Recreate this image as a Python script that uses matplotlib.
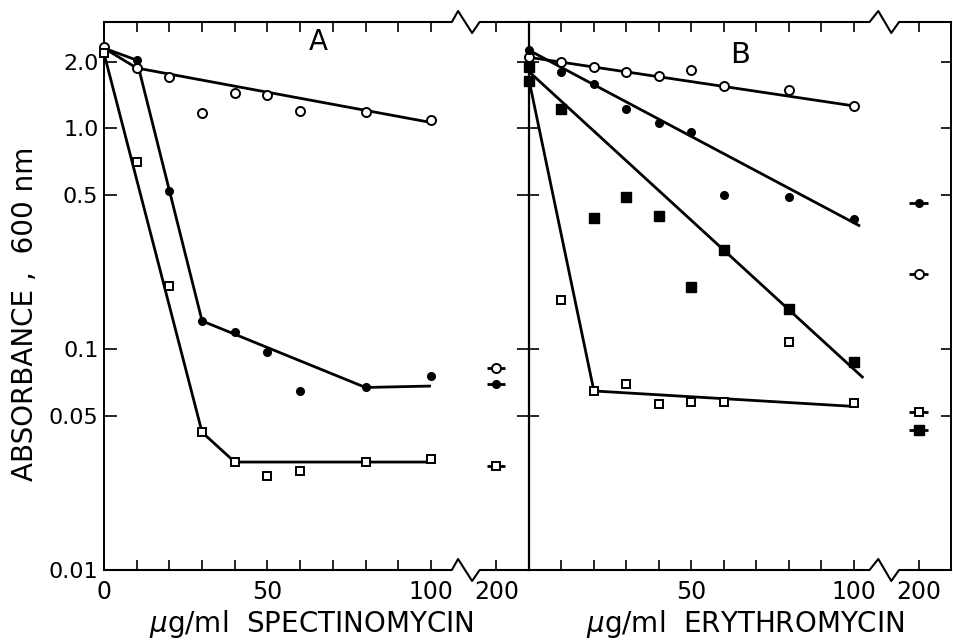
import matplotlib
matplotlib.use("Agg")
import matplotlib.pyplot as plt
from matplotlib.ticker import NullLocator, FixedLocator, FixedFormatter
import matplotlib.transforms as mtrans

plt.rcParams['font.family'] = ['DejaVu Sans']

# ---------------- data ----------------
# x position 120 on each axis stands for the broken-axis "200" point
X_TICKS = [0, 10, 20, 30, 40, 50, 60, 70, 80, 90, 100, 120]
A_XLABELS = ['0', '', '', '', '', '50', '', '', '', '', '100', '200']
B_XLABELS = ['', '', '', '', '', '50', '', '', '', '', '100', '200']
Y_TICKS = [0.01, 0.05, 0.1, 0.5, 1.0, 2.0]
Y_LABELS = ['0.01', '0.05', '0.1', '0.5', '1.0', '2.0']
X200 = 120

# Panel A: spectinomycin
A_oc_x = [0, 10, 20, 30, 40, 50, 60, 80, 100]
A_oc_y = [2.33, 1.87, 1.70, 1.17, 1.44, 1.41, 1.20, 1.18, 1.09]
A_fc_x = [10, 20, 30, 40, 50, 60, 80, 100]
A_fc_y = [2.03, 0.52, 0.134, 0.119, 0.097, 0.0646, 0.0673, 0.0755]
A_os_x = [0, 10, 20, 30, 40, 50, 60, 80, 100]
A_os_y = [2.18, 0.70, 0.193, 0.042, 0.0308, 0.0266, 0.028, 0.0308, 0.0318]
A_oc_line_x = [0, 10, 100]
A_oc_line_y = [2.3, 1.87, 1.06]
A_fc_line_x = [0, 10, 30, 80, 100]
A_fc_line_y = [2.3, 2.03, 0.134, 0.067, 0.068]
A_os_line_x = [0, 30, 40, 100]
A_os_line_y = [2.18, 0.042, 0.0308, 0.0308]
A_200_oc = 0.082
A_200_fc = 0.0695
A_200_os = 0.0296

# Panel B: erythromycin
B_oc_x = [0, 10, 20, 30, 40, 50, 60, 80, 100]
B_oc_y = [2.09, 1.99, 1.89, 1.79, 1.72, 1.83, 1.55, 1.49, 1.26]
B_fc_x = [0, 10, 20, 30, 40, 50, 60, 80, 100]
B_fc_y = [2.25, 1.79, 1.58, 1.22, 1.05, 0.96, 0.497, 0.49, 0.387]
B_fs_x = [0, 0, 10, 20, 30, 40, 50, 60, 80, 100]
B_fs_y = [1.89, 1.63, 1.22, 0.392, 0.488, 0.40, 0.191, 0.28, 0.152, 0.087]
B_os_x = [10, 20, 30, 40, 50, 60, 80, 100]
B_os_y = [0.167, 0.0646, 0.0695, 0.0563, 0.0574, 0.0574, 0.108, 0.0568]
B_oc_line_x = [0, 100]
B_oc_line_y = [2.09, 1.26]
B_fc_line_x = [0, 102]
B_fc_line_y = [2.25, 0.36]
B_fs_line_x = [0, 103]
B_fs_line_y = [1.8, 0.074]
B_os_line_x = [0, 20, 100]
B_os_line_y = [1.65, 0.0646, 0.055]
B_200_oc = 0.218
B_200_fc = 0.458
B_200_os = 0.0519
B_200_fs = 0.043

# ---------------- figure ----------------
W, H = 954, 644
fig = plt.figure(figsize=(W / 100, H / 100), dpi=100)
bottom_px, top_px = 570, 22
axA = fig.add_axes([104 / W, (H - bottom_px) / H, 425 / W, (bottom_px - top_px) / H])
axB = fig.add_axes([529 / W, (H - bottom_px) / H, 422 / W, (bottom_px - top_px) / H])

LW = 2.0
styles = {
    'oc': dict(marker='o', mfc='white', mec='black', ms=6.5, mew=1.4),
    'fc': dict(marker='o', mfc='black', mec='black', ms=5.5, mew=1.0),
    'os': dict(marker='s', mfc='white', mec='black', ms=6, mew=1.4),
    'fs': dict(marker='s', mfc='black', mec='black', ms=6.5, mew=1.0),
}

def pts(ax, x, y, key):
    ax.plot(x, y, linestyle='none', zorder=4, clip_on=False, **styles[key])

def line(ax, x, y):
    ax.plot(x, y, color='black', lw=LW, zorder=3, solid_capstyle='butt')

def pt200(ax, y, key):
    ax.errorbar([X200], [y], xerr=[2.8], fmt='none', ecolor='black',
                elinewidth=2.0, capsize=0, zorder=3)
    ax.plot([X200], [y], linestyle='none', zorder=4, **styles[key])

# Panel A
line(axA, A_oc_line_x, A_oc_line_y)
line(axA, A_fc_line_x, A_fc_line_y)
line(axA, A_os_line_x, A_os_line_y)
pts(axA, A_oc_x, A_oc_y, 'oc')
pts(axA, A_fc_x, A_fc_y, 'fc')
pts(axA, A_os_x, A_os_y, 'os')
pt200(axA, A_200_oc, 'oc')
pt200(axA, A_200_fc, 'fc')
pt200(axA, A_200_os, 'os')

# Panel B
line(axB, B_oc_line_x, B_oc_line_y)
line(axB, B_fc_line_x, B_fc_line_y)
line(axB, B_fs_line_x, B_fs_line_y)
line(axB, B_os_line_x, B_os_line_y)
pts(axB, B_oc_x, B_oc_y, 'oc')
pts(axB, B_fc_x, B_fc_y, 'fc')
pts(axB, B_fs_x, B_fs_y, 'fs')
pts(axB, B_os_x, B_os_y, 'os')
pt200(axB, B_200_fc, 'fc')
pt200(axB, B_200_oc, 'oc')
pt200(axB, B_200_os, 'os')
pt200(axB, B_200_fs, 'fs')

for ax in (axA, axB):
    ax.set_yscale('log')
    ax.set_ylim(0.01, 3.02)
    ax.set_xlim(0, 130)
    ax.yaxis.set_minor_locator(NullLocator())
    ax.xaxis.set_minor_locator(NullLocator())
    ax.spines['top'].set_visible(False)
    ax.spines['bottom'].set_visible(False)
    ax.xaxis.set_major_locator(FixedLocator(X_TICKS))
    ax.tick_params(axis='x', which='major', direction='in', length=7, width=1.2,
                   top=True, bottom=True, labelsize=17, pad=7)
    ax.yaxis.set_major_locator(FixedLocator(Y_TICKS))

axA.xaxis.set_major_formatter(FixedFormatter(A_XLABELS))
axB.xaxis.set_major_formatter(FixedFormatter(B_XLABELS))

axA.yaxis.set_major_formatter(FixedFormatter(Y_LABELS))
axA.tick_params(axis='y', which='major', direction='in', length=9, width=1.2,
                left=True, right=True, labelleft=True, labelright=False,
                labelsize=16, pad=4)
axA.spines['right'].set_visible(False)
axA.spines['left'].set_linewidth(1.4)
axB.yaxis.set_major_formatter(FixedFormatter([''] * len(Y_TICKS)))
axB.tick_params(axis='y', which='major', direction='in', length=7, width=1.2,
                left=True, right=True, labelleft=False, labelright=False)
axB.spines['left'].set_linewidth(1.6)
axB.spines['right'].set_linewidth(1.4)

# Top / bottom axis lines with break zigzag
d = 11 / (bottom_px - top_px)
def frame_lines(ax, xs):
    trans = mtrans.blended_transform_factory(ax.transData, ax.transAxes)
    offs = [0, 0, d, -d, 0, 0]
    for base in (0.0, 1.0):
        ax.plot(xs, [base + o for o in offs], color='black', lw=1.5,
                transform=trans, clip_on=False, zorder=5)

frame_lines(axA, [0, 106.4, 108.3, 112.6, 114.9, 130])
frame_lines(axB, [0, 104.9, 107.6, 111.6, 114.0, 130])

# Panel letters
axA.text(0.504, 0.963, 'A', transform=axA.transAxes, ha='center', va='center',
         fontsize=20)
axB.text(0.50, 0.940, 'B', transform=axB.transAxes, ha='center', va='center',
         fontsize=21)

# Axis labels
fig.text(25 / W, 1 - 314 / H, 'ABSORBANCE ,  600 nm', rotation=90,
         ha='center', va='center', fontsize=20)
fig.text(311 / W, 1 - 624 / H, r'$\mu$g/ml  SPECTINOMYCIN', ha='center',
         va='center', fontsize=20)
fig.text(745 / W, 1 - 624 / H, r'$\mu$g/ml  ERYTHROMYCIN', ha='center',
         va='center', fontsize=20)

fig.savefig('out.png', dpi=100)
